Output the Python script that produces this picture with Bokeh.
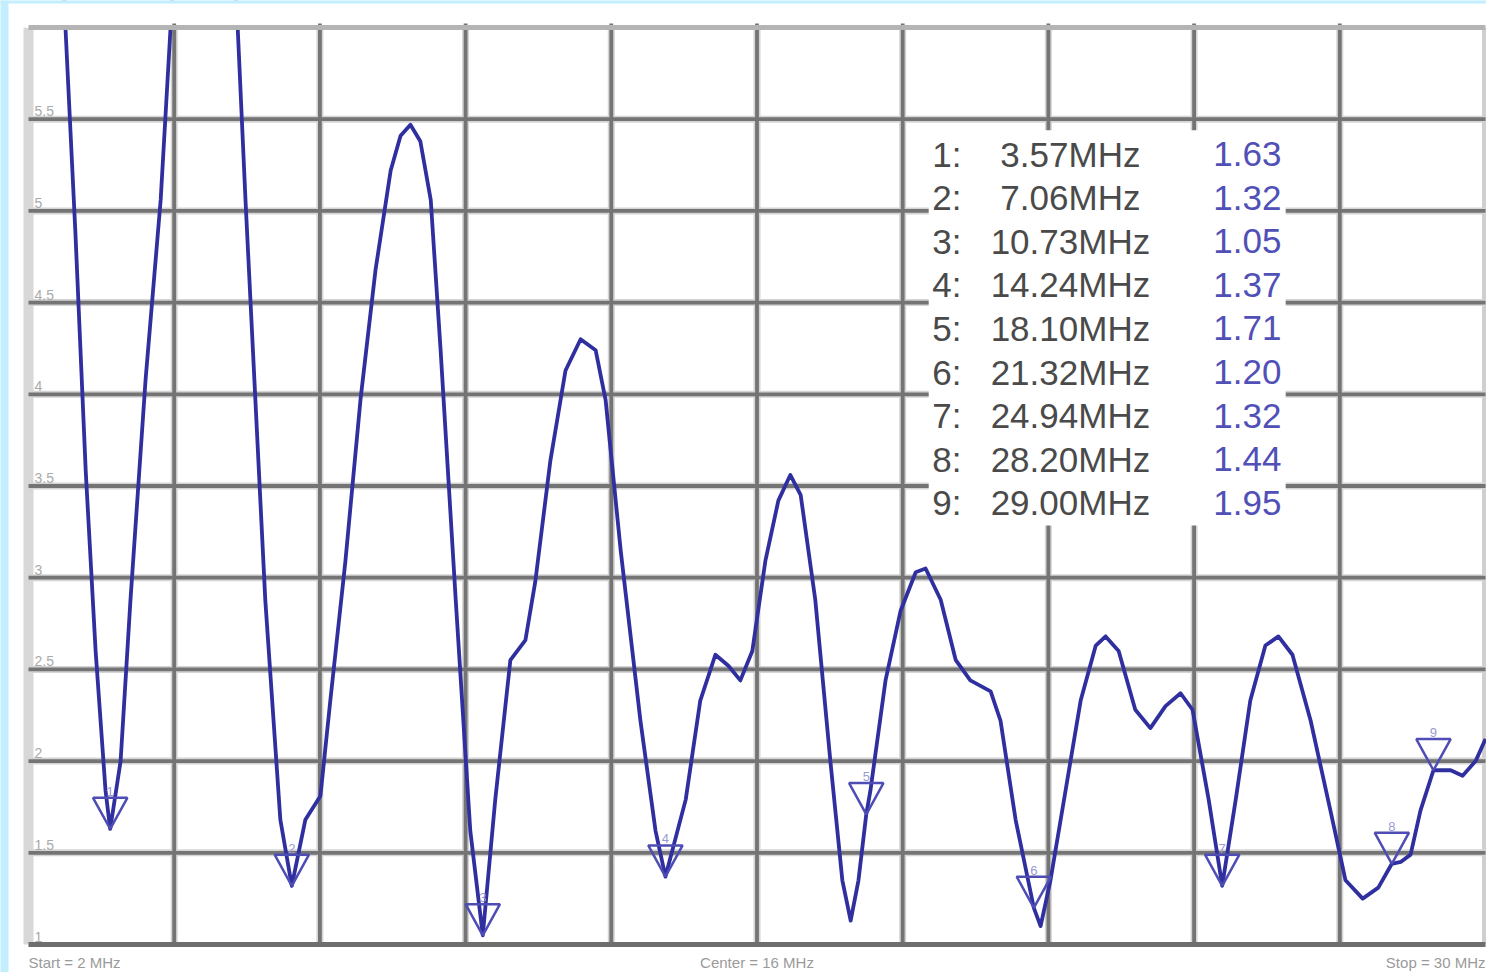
from bokeh.plotting import figure
from bokeh.models import Range1d
from bokeh.core.properties import value
from bokeh.embed import file_html
from bokeh.resources import INLINE

# ---- data ----
f_start, f_center, f_stop = 2.0, 16.0, 30.0
swr_min, swr_max = 1.0, 6.0

freq = [2.58, 2.71, 2.90, 3.10, 3.29, 3.48, 3.57, 3.77, 3.96, 4.25, 4.54, 4.73, 4.88,
        5.40, 5.88, 6.02, 6.17, 6.36, 6.55, 6.84, 7.06, 7.32, 7.61, 7.80, 8.09, 8.38,
        8.67, 8.96, 9.15, 9.34, 9.53, 9.73, 9.92, 10.21, 10.49, 10.73, 10.97, 11.26,
        11.55, 11.74, 12.03, 12.32, 12.61, 12.90, 13.09, 13.38, 13.76, 14.05, 14.24,
        14.63, 14.91, 15.20, 15.45, 15.68, 15.91, 16.16, 16.41, 16.64, 16.84, 17.12,
        17.41, 17.64, 17.80, 17.95, 18.10, 18.18, 18.47, 18.76, 19.05, 19.24, 19.53,
        19.82, 20.10, 20.49, 20.68, 20.97, 21.32, 21.45, 21.64, 21.93, 22.22, 22.51,
        22.70, 22.95, 23.27, 23.56, 23.85, 24.14, 24.37, 24.68, 24.94, 25.20, 25.48,
        25.77, 26.02, 26.29, 26.64, 27.02, 27.31, 27.64, 27.94, 28.20, 28.37, 28.56,
        28.75, 29.00, 29.33, 29.56, 29.81, 30.00]
swr = [6.8, 6.0, 4.89, 3.58, 2.60, 1.84, 1.63, 2.00, 2.88, 4.08, 5.06, 6.0, 6.8,
       9.0, 6.8, 6.0, 5.06, 3.97, 2.88, 1.68, 1.32, 1.68, 1.81, 2.33, 3.09, 3.97,
       4.68, 5.22, 5.41, 5.47, 5.38, 5.06, 4.24, 2.88, 1.62, 1.05, 1.79, 2.55,
       2.66, 2.98, 3.64, 4.13, 4.30, 4.24, 3.97, 3.15, 2.22, 1.62, 1.37,
       1.79, 2.33, 2.58, 2.52, 2.44, 2.60, 3.09, 3.42, 3.56, 3.45, 2.88,
       2.00, 1.35, 1.13, 1.35, 1.71, 1.84, 2.44, 2.82, 3.03, 3.05, 2.88,
       2.55, 2.44, 2.38, 2.22, 1.68, 1.20, 1.10, 1.35, 1.84, 2.33, 2.63,
       2.68, 2.60, 2.28, 2.18, 2.30, 2.37, 2.28, 1.79, 1.32, 1.79, 2.33,
       2.63, 2.68, 2.58, 2.22, 1.73, 1.35, 1.25, 1.31, 1.44, 1.45, 1.49,
       1.73, 1.95, 1.95, 1.92, 2.00, 2.12]

marker_ids = [1, 2, 3, 4, 5, 6, 7, 8, 9]
marker_freq = [3.57, 7.06, 10.73, 14.24, 18.10, 21.32, 24.94, 28.20, 29.00]
marker_swr = [1.63, 1.32, 1.05, 1.37, 1.71, 1.20, 1.32, 1.44, 1.95]

y_tick_values = [1, 1.5, 2, 2.5, 3, 3.5, 4, 4.5, 5, 5.5]
y_tick_labels = ["1", "1.5", "2", "2.5", "3", "3.5", "4", "4.5", "5", "5.5"]

# ---- layout / styling constants ----
W, H = 1486, 972
left_px, right_px, top_px, bottom_px = 28, 1485, 27, 944
sx = (right_px - left_px) / (f_stop - f_start)      # px per MHz
sy = (bottom_px - top_px) / (swr_max - swr_min)     # px per SWR unit
x_start = f_start - left_px / sx
x_end = f_stop + (W - right_px) / sx
y_start = swr_min - (H - bottom_px) / sy
y_end = swr_max + top_px / sy

GRID = "#747474"
HALO = "#d4d4d4"
CURVE = "#2f2f9f"
MARK = "#4d4db5"
FONT = "Liberation Sans"
CYAN = "#c2eefd"

p = figure(width=W, height=H, output_backend="svg", toolbar_location=None,
           x_range=Range1d(x_start, x_end), y_range=Range1d(y_start, y_end),
           x_axis_location=None, y_axis_location=None,
           min_border_left=0, min_border_right=0, min_border_top=0, min_border_bottom=0)
p.outline_line_color = None
p.background_fill_color = "white"
p.border_fill_color = "white"
p.xgrid.visible = False
p.ygrid.visible = False

ndiv = 10
x_grid = [f_start + i * (f_stop - f_start) / ndiv for i in range(1, ndiv)]
y_grid = [v for v in y_tick_values if v > swr_min]

# frame edges (light)
p.segment(x0=[f_start], y0=[swr_min], x1=[f_start], y1=[swr_max], line_color="#d8d8d8", line_width=10)
p.segment(x0=[f_stop], y0=[swr_min], x1=[f_stop], y1=[swr_max], line_color="#cfcfcf", line_width=7)

# grid lines: soft halo + dark core
p.segment(x0=x_grid, y0=[swr_min] * len(x_grid), x1=x_grid, y1=[swr_max] * len(x_grid),
          line_color=HALO, line_width=7)
p.segment(x0=[f_start] * len(y_grid), y0=y_grid, x1=[f_stop] * len(y_grid), y1=y_grid,
          line_color=HALO, line_width=7)
p.segment(x0=x_grid, y0=[swr_min] * len(x_grid), x1=x_grid, y1=[swr_max] * len(x_grid),
          line_color=GRID, line_width=3.8)
p.segment(x0=[f_start] * len(y_grid), y0=y_grid, x1=[f_stop] * len(y_grid), y1=y_grid,
          line_color=GRID, line_width=3.8)
p.segment(x0=[f_start], y0=[swr_min], x1=[f_stop], y1=[swr_min], line_color="#6e6e6e", line_width=5)

# y labels inside frame
p.text(x=[f_start] * len(y_tick_values), y=y_tick_values, text=y_tick_labels,
       x_offset=6, y_offset=-3, text_baseline="bottom", text_align="left",
       text_font=value(FONT), text_font_size="14px", text_color="#aaaaaa")

# marker table box
p.quad(left=19.30, right=26.16, bottom=3.285, top=5.44, fill_color="white", line_color=None)

row0 = 5.310
row_step = 0.2377
rows_y = [row0 - i * row_step for i in range(len(marker_ids))]
p.text(x=[19.37] * 9, y=rows_y, text=[f"{m}:" for m in marker_ids],
       text_baseline="middle", text_align="left", text_font=value(FONT),
       text_font_size="35px", text_color="#4a4a4a")
p.text(x=[20.49] * 9, y=rows_y,
       text=[("\u00a0" if fr < 10 else "") + f"{fr:.2f}MHz" for fr in marker_freq],
       text_baseline="middle", text_align="left", text_font=value(FONT),
       text_font_size="35px", text_color="#4a4a4a")
p.text(x=[24.77] * 9, y=rows_y, text=[f"{s:.2f}" for s in marker_swr],
       text_baseline="middle", text_align="left", text_font=value(FONT),
       text_font_size="35px", text_color="#5050b6")

# trace
p.line(freq, swr, line_color=CURVE, line_width=3.8, line_join="round")

# marker triangles (apex on the trace)
hw, th = 0.33, 0.17
xs = [[f - hw, f + hw, f] for f in marker_freq]
ys = [[s + th, s + th, s] for s in marker_swr]
p.patches(xs, ys, fill_color=None, line_color=MARK, line_width=2.5)
p.text(x=marker_freq, y=[s + th for s in marker_swr], text=[str(m) for m in marker_ids],
       text_baseline="bottom", text_align="center", y_offset=-2,
       text_font=value(FONT), text_font_size="13px", text_color="#9a9ad2")

# mask everything above the top of the scale, then redraw the top edge
pad = 20 / sy
p.quad(left=x_start, right=x_end, bottom=swr_max, top=y_end + pad, fill_color="white", line_color=None)
p.segment(x0=x_grid, y0=[swr_max] * len(x_grid), x1=x_grid, y1=[swr_max + 4 / sy] * len(x_grid),
          line_color=GRID, line_width=3.8)
p.segment(x0=[f_start], y0=[swr_max], x1=[f_stop], y1=[swr_max], line_color="#b4b4b4", line_width=5)

# page-edge tint
p.quad(left=x_start - 1, right=x_start + 8 / sx, bottom=y_start - pad, top=y_end + pad,
       fill_color=CYAN, line_color=None)
p.quad(left=x_start - 1, right=x_end + 1, bottom=y_end - 3 / sy, top=y_end + pad,
       fill_color=CYAN, line_color=None)

# bottom labels
lab_y = swr_min - 18 / sy
for x, txt, align in [(f_start, f"Start = {f_start:g} MHz", "left"),
                      (f_center, f"Center = {f_center:g} MHz", "center"),
                      (f_stop, f"Stop = {f_stop:g} MHz", "right")]:
    p.text(x=[x], y=[lab_y], text=[txt], text_align=align, text_baseline="middle",
           text_font=value(FONT), text_font_size="15px", text_color="#9a9a9a")

open("out.html", "w").write(file_html(p, INLINE))
